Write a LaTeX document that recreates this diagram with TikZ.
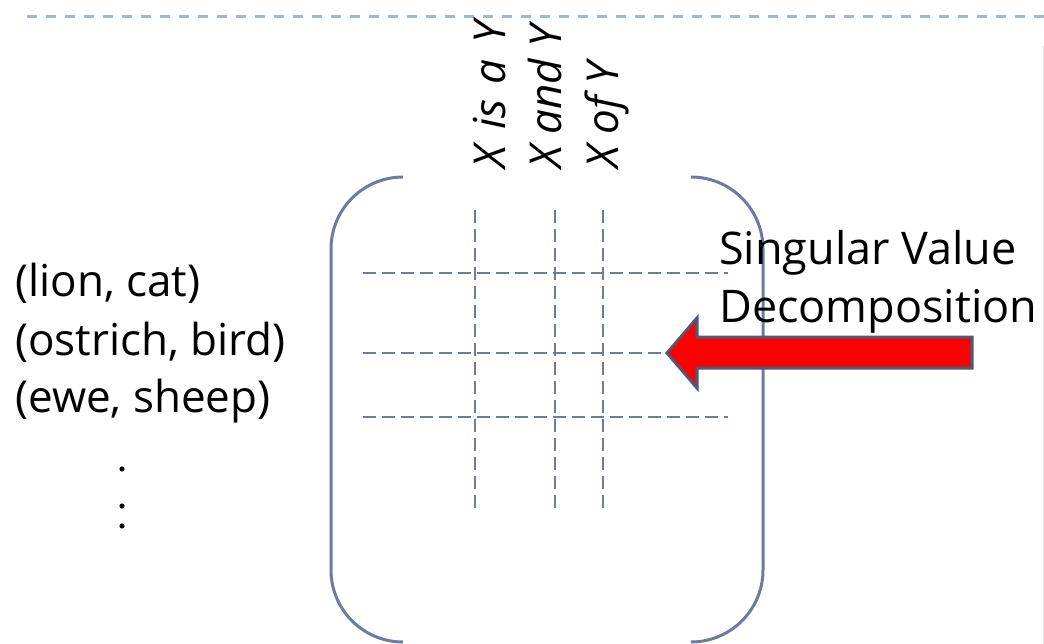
\documentclass[tikz,border=0pt]{standalone}
\usepackage{fontspec}
\setmainfont{Open Sans}
\definecolor{slate}{RGB}{110,122,162}
\definecolor{rulecol}{RGB}{162,182,204}
\definecolor{arrowedge}{RGB}{80,88,120}
\begin{document}
\begin{tikzpicture}[x=1pt,y=-1pt,
  lbl/.style={inner sep=0pt,anchor=base west,font=\fontsize{45}{54}\selectfont},
  rowlbl/.style={lbl,font=\fontsize{44}{54}\selectfont},
  collbl/.style={lbl,rotate=90,font=\fontsize{44}{54}\selectfont\itshape},
  bracket/.style={slate,line width=3pt},
  grid/.style={slate,line width=2.8pt,dash pattern=on 13pt off 6pt},
  topline/.style={rulecol,line width=3pt,dash pattern=on 10pt off 9pt}]
\useasboundingbox (0,0) rectangle (1044,644);

% header rule
\coordinate (r0) at (27,17);
\coordinate (r1) at (1044,17);
\draw[topline] (r0) -- (r1);
% right edge of the slide panel
\coordinate (e0) at (1043,46);
\coordinate (e1) at (1043,644);
\draw[black!10,line width=1pt] (e0) -- (e1);

% row labels
\node[rowlbl] (row1) at (15,297) {(lion, cat)};
\node[rowlbl] (row2) at (15,355) {(ostrich, bird)};
\node[rowlbl] (row3) at (15,412) {(ewe, sheep)};
\fill (122,469) circle (2.6pt);
\fill (122,506) circle (2.6pt);
\fill (122,526) circle (2.6pt);

% column labels
\node[collbl] (col1) at (505,169) {X\hspace{0.36em}is\hspace{0.36em}a\hspace{0.36em}Y};
\node[collbl] (col2) at (561,169) {X and Y};
\node[collbl] (col3) at (618,169) {X of Y};

% matrix brackets
\draw[bracket] (403,177) arc[start angle=-90,end angle=-180,radius=72] -- (331,570)
  arc[start angle=180,end angle=90,radius=72];
\draw[bracket] (691,177) arc[start angle=-90,end angle=0,radius=72] -- (763,570)
  arc[start angle=0,end angle=90,radius=72];

% matrix cells
\foreach \x in {475,555,603} \draw[grid] (\x,210) -- (\x,513);
\draw[grid] (363,273) -- (728,273);
\draw[grid] (363,353) -- (667,353);
\draw[grid] (363,417) -- (728,417);

% SVD arrow and label
\draw[arrowedge,fill=red,line width=3pt,line join=miter]
  (667,353) -- (697,318) -- (697,337) -- (972,337) -- (972,368) -- (697,368) -- (697,388) -- cycle;
\node[lbl] (svd1) at (719,265) {Singular Value};
\node[lbl] (svd2) at (719,323) {Decomposition};
\end{tikzpicture}
\end{document}
